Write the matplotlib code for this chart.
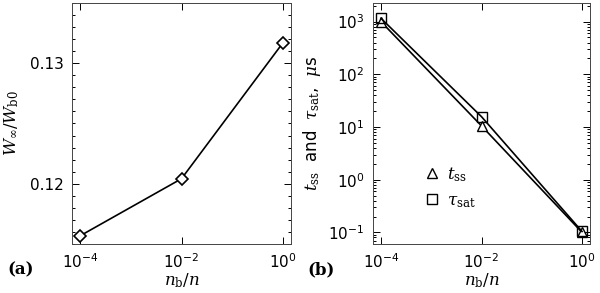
import numpy as np
import matplotlib
matplotlib.use('Agg')
import matplotlib.pyplot as plt
from matplotlib.lines import Line2D
from matplotlib.ticker import LogLocator, NullFormatter, MultipleLocator

# data
nb_n = [1e-4, 1e-2, 1e0]
w_ratio = [0.11568, 0.12042, 0.1317]
t_ss = [1000, 10.5, 0.1]
tau_sat = [1156, 15.7, 0.104]

plt.rcParams['mathtext.fontset'] = 'dejavuserif'
plt.rcParams['font.size'] = 11

fig = plt.figure(figsize=(6, 2.93), dpi=100)
ax1 = fig.add_axes([0.12, 0.167, 0.365, 0.823])
ax2 = fig.add_axes([0.6217, 0.167, 0.3616, 0.823])

for ax in (ax1, ax2):
    ax.set_xscale('log')
    ax.set_xlim(10**-4.158, 10**0.158)
    ax.set_xticks([1e-4, 1e-2, 1e0])
    ax.xaxis.set_minor_locator(plt.NullLocator())
    ax.tick_params(which='both', direction='in', top=True, right=True, width=0.7)
    ax.tick_params(which='major', length=5, labelsize=11, pad=6)
    ax.tick_params(which='minor', length=2.5)
    for s in ax.spines.values():
        s.set_linewidth(0.7)
        s.set_color('#444444')

# panel (a)
ax1.plot(nb_n, w_ratio, color='black', lw=1.2, marker='D', markersize=6,
         markerfacecolor='white', markeredgecolor='black', markeredgewidth=1.2)
ax1.set_ylim(0.115, 0.135)
ax1.set_yticks([0.12, 0.13])
ax1.yaxis.set_minor_locator(MultipleLocator(0.001))
ax1.set_ylabel(r'$W_\infty/W_{\rm b0}$', fontsize=12, labelpad=6)

# panel (b)
ax2.set_yscale('log')
ax2.plot(nb_n, t_ss, color='black', lw=1.2, marker='^', markersize=7,
         markerfacecolor='white', markeredgecolor='black', markeredgewidth=1.0)
ax2.plot(nb_n, tau_sat, color='black', lw=1.2, marker='s', markersize=7,
         markerfacecolor='none', markeredgecolor='black', markeredgewidth=1.0)
ax2.set_ylim(10**-1.222, 10**3.355)
ax2.yaxis.set_major_locator(LogLocator(base=10, numticks=10))
ax2.yaxis.set_minor_locator(LogLocator(base=10, subs=np.arange(2, 10), numticks=20))
ax2.yaxis.set_minor_formatter(NullFormatter())
ax2.set_ylabel(r'$t_{\rm ss}$  and  $\tau_{\rm sat}$,  $\mu$s', fontsize=12, labelpad=4)

handles = [
    Line2D([], [], ls='none', marker='^', markersize=7, markerfacecolor='white',
           markeredgecolor='black', markeredgewidth=1.0),
    Line2D([], [], ls='none', marker='s', markersize=7, markerfacecolor='none',
           markeredgecolor='black', markeredgewidth=1.0),
]
ax2.legend(handles, [r'$t_{\rm ss}$', r'$\tau_{\rm sat}$'], loc='lower left',
           bbox_to_anchor=(0.17, 0.08), frameon=False, handlelength=0.8,
           handletextpad=0.5, labelspacing=0.45, fontsize=12)

for ax in (ax1, ax2):
    ax.set_xlabel(r'$n_{\rm b}/n$', fontsize=12, labelpad=0)

fig.text(0.013, 0.078, '(a)', fontsize=12, fontweight='bold', family='serif', va='center')
fig.text(0.513, 0.078, '(b)', fontsize=12, fontweight='bold', family='serif', va='center')

fig.savefig('out.png', dpi=100)
